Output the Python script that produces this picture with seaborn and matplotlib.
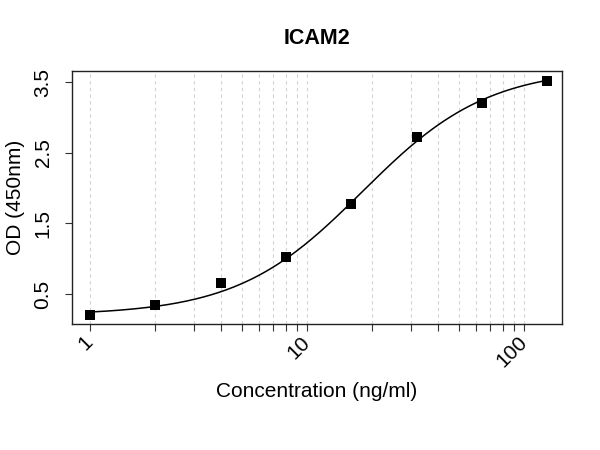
import numpy as np
import pandas as pd
import matplotlib
matplotlib.use("Agg")
import matplotlib.pyplot as plt
import seaborn as sns
from matplotlib.ticker import FixedLocator, NullFormatter

sns.set_style("white")
plt.rcParams['font.family'] = ['Liberation Sans', 'DejaVu Sans']
plt.rcParams['text.color'] = 'black'
plt.rcParams['axes.labelcolor'] = 'black'
plt.rcParams['xtick.color'] = 'black'
plt.rcParams['ytick.color'] = 'black'

title = "ICAM2"
x_label = "Concentration (ng/ml)"
y_label = "OD (450nm)"
concentration = [1, 2, 4, 8, 16, 32, 64, 128]
od = [0.20, 0.35, 0.66, 1.03, 1.78, 2.72, 3.21, 3.51]
# fitted 4-parameter logistic: bottom, top, EC50, hill slope
fit_params = [0.20, 3.70, 18.0, 1.5]
x_ticks = [1, 10, 100]
x_tick_labels = ["1", "10", "100"]
y_ticks = [0.5, 1.5, 2.5, 3.5]
y_tick_labels = ["0.5", "1.5", "2.5", "3.5"]

A, D, C, B = fit_params
xs = np.logspace(np.log10(concentration[0]), np.log10(concentration[-1]), 300)
curve = pd.DataFrame({"x": xs, "y": D + (A - D) / (1 + (xs / C) ** B)})
pts = pd.DataFrame({"x": concentration, "y": od})

fig = plt.figure(figsize=(6, 4.5), dpi=100)
ax = fig.add_axes([72/600, 1-324/450, (562-72)/600, (324-71)/450])
ax.set_xscale("log")
ax.set_xlim(0.826, 149.6)
ax.set_ylim(0.076, 3.656)

grid_x = [m * 10**e for e in range(0, 2) for m in range(1, 10)] + [100]
for g in grid_x:
    ax.axvline(g, color="#d3d3d3", linestyle=(0, (3, 3)), linewidth=0.8, zorder=0)

sns.lineplot(data=curve, x="x", y="y", ax=ax, color="black", linewidth=1.1, zorder=2)
sns.scatterplot(data=pts, x="x", y="y", ax=ax, marker="s", s=62, color="black",
                edgecolor="black", linewidth=0, zorder=3)

minor_x = [g for g in grid_x if g not in x_ticks]
ax.xaxis.set_major_locator(FixedLocator(x_ticks))
ax.xaxis.set_minor_locator(FixedLocator(minor_x))
ax.xaxis.set_minor_formatter(NullFormatter())
ax.set_xticklabels(x_tick_labels, rotation=45, ha="right", va="center",
                   rotation_mode="anchor", fontsize=15)
ax.set_yticks(y_ticks)
ax.set_yticklabels(y_tick_labels, rotation=90, va="center", fontsize=15)
ax.tick_params(axis="both", which="both", direction="out", length=5, width=0.8,
               color="#333333", left=True, bottom=True)
ax.tick_params(axis="x", which="major", pad=6)
ax.tick_params(axis="y", pad=9)
for s in ax.spines.values():
    s.set_visible(True)
    s.set_color("#222222")
    s.set_linewidth(1.0)

ax.set_xlabel(x_label, fontsize=15, labelpad=8)
ax.set_ylabel(y_label, fontsize=15, labelpad=6)
fig.text(317/600, 1-38/450, title, ha="center", va="center", fontsize=15.5,
         fontweight="bold", color="black")

fig.savefig("out.png", dpi=100)
